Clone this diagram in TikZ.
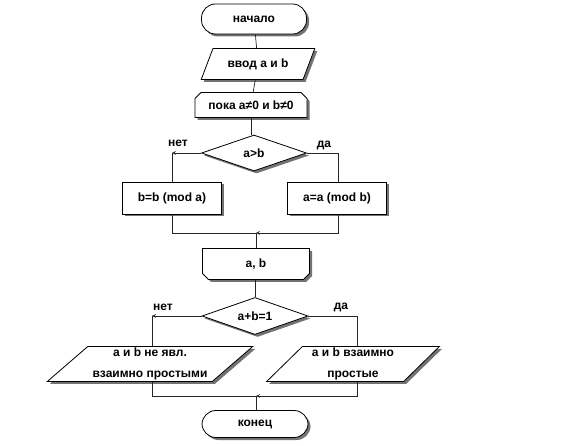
\documentclass[tikz,border=0pt]{standalone}
\usepackage{fontspec}
\setmainfont{Liberation Sans}
\usetikzlibrary{positioning,shapes.geometric,shapes.misc,shadows}

\begin{document}
\begin{tikzpicture}[x=1pt,y=-1pt,>=stealth]
  \tikzstyle{base}=[draw,line width=0.8pt,fill=white,inner sep=1pt,
    font=\bfseries\fontsize{12}{21}\selectfont,align=center,
    drop shadow={shadow xshift=2.5pt,shadow yshift=-2.5pt,fill=black!55,opacity=1}]
  \tikzstyle{term}=[base,rounded corners=14pt,minimum width=105pt,minimum height=30pt]
  \tikzstyle{io}=[base,trapezium,trapezium stretches=true]
  \tikzstyle{proc}=[base,rectangle,minimum width=99pt,minimum height=32pt]
  \tikzstyle{cond}=[base,diamond,aspect=2.9,minimum width=105pt,minimum height=36pt,inner sep=0pt]
  \tikzstyle{loop}=[base,chamfered rectangle,chamfered rectangle xsep=5pt,chamfered rectangle ysep=1pt]
  \tikzstyle{lbl}=[font=\bfseries\fontsize{12}{14}\selectfont,inner sep=1pt]
  \tikzstyle{link}=[draw=black!85,line width=0.7pt]
  \useasboundingbox (0,0) rectangle (576,446);
  % main column
  \node[term] (start) at (254,19) {начало};
  \node[io,trapezium left angle=58,trapezium right angle=122,
    minimum width=114pt,minimum height=31pt] (inp) at (258,64) {ввод a и b};
  \node[loop,chamfered rectangle corners={north west,north east},
    minimum width=112pt,minimum height=25pt] (wh) at (251,105) {пока a≠0 и b≠0};
  \node[cond] (gt) at (254,153) {a>b};
  \node[proc] (modb) at (172,198) {b=b (mod a)};
  \node[proc] (moda) at (337,198) {a=a (mod b)};
  \coordinate (m1) at (256,233);
  \node[loop,chamfered rectangle corners={south west,south east},
    minimum width=107pt,minimum height=31pt] (ab) at (256,264) {a, b};
  \node[cond,minimum width=106pt,minimum height=37pt] (gcd) at (255,316) {a+b=1};
  \node[io,trapezium left angle=42,trapezium right angle=138,
    minimum width=206pt,minimum height=35pt] (no) at (150,364) {а и b не явл.\\взаимно простыми};
  \node[io,trapezium left angle=49,trapezium right angle=131,
    minimum width=173pt,minimum height=35pt] (yes) at (353,364) {а и b взаимно\\простые};
  \coordinate (m2) at (256,396);
  \node[term,minimum width=106pt,minimum height=27pt] (stop) at (255,424) {конец};
  % corners
  \coordinate (c1) at (gt.west -| modb);
  \coordinate (c2) at (gt.east -| 338,0);
  \coordinate (c3) at (gcd.west -| 152,0);
  \coordinate (c4) at (gcd.east -| 357,0);
  % labels
  \node[lbl] (n1) at (178,143) {нет};
  \node[lbl] (y1) at (324,145) {да};
  \node[lbl] (n2) at (163,307) {нет};
  \node[lbl] (y2) at (341,307) {да};
  % connectors
  \path[link] (start) -- (inp);
  \path[link] (inp) -- (wh);
  \path[link] (wh.south) -- (wh.south |- gt.north);
  \draw[link,->] (gt.west) -- (c1);
  \path[link] (c1) -- (modb);
  \path[link] (gt.east) -- (c2) -- (c2 |- moda.north);
  \path[link] (modb) |- (m1);
  \draw[link,->] (c2 |- moda.south) |- (m1);
  \path[link] (m1) -- (m1 |- ab.north);
  \path[link] (ab.south -| gcd) -- (gcd);
  \draw[link,->] (gcd.west) -- (c3);
  \path[link] (c3) -- (c3 |- no.north);
  \path[link] (gcd.east) -- (c4) -- (c4 |- yes.north);
  \path[link] (c3 |- no.south) |- (m2);
  \draw[link,->] (c4 |- yes.south) |- (m2);
  \path[link] (m2) -- (m2 |- stop.north);
\end{tikzpicture}
\end{document}
